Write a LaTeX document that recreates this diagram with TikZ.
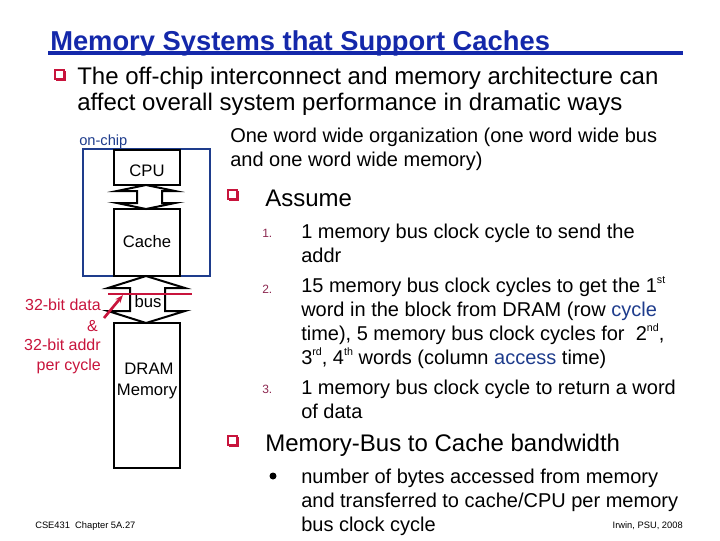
\documentclass[tikz,border=0pt]{standalone}
\usepackage{fontspec}
\setmainfont{Liberation Sans}
\usetikzlibrary{arrows.meta}
\definecolor{tblue}{RGB}{20,40,170}
\definecolor{dblue}{RGB}{30,60,140}
\definecolor{dred}{RGB}{200,20,60}
\definecolor{nred}{RGB}{140,40,80}
\begin{document}
\begin{tikzpicture}[x=0.75pt,y=-0.75pt,
  txt/.style={anchor=base west,inner sep=0pt,font=\fontsize{15}{17}\selectfont},
  big/.style={anchor=base west,inner sep=0pt,font=\fontsize{18}{21}\selectfont},
  num/.style={anchor=base west,inner sep=0pt,text=nred,font=\fontsize{9}{11}\selectfont},
  box/.style={draw=black,line width=1.5pt,fill=white},
  lbl/.style={inner sep=0pt,font=\fontsize{12.5}{14}\selectfont},
  rlbl/.style={anchor=base east,inner sep=0pt,text=dred,font=\fontsize{12}{14}\selectfont},
  darr/.style={draw=black,line width=1.5pt,fill=white,line join=miter}]
\useasboundingbox (0,0) rectangle (720,540);
% title
\node[anchor=base west,inner sep=0pt,text=tblue,font=\fontsize{20.5}{24}\bfseries\selectfont] (title) at (50,50) {Memory Systems that Support Caches};
\fill[tblue] (48,51) rectangle (683,55);
% bullets
\foreach \bx/\by in {55/70,228/190,228/436}{
  \fill[dred] (\bx+1,\by+1) rectangle (\bx+11,\by+11);
  \filldraw[draw=dred,fill=white,line width=0.8pt] (\bx,\by) rectangle (\bx+9,\by+9);
}
\node[big] (t1) at (77,84) {The off-chip interconnect and memory architecture can};
\node[big] (t2) at (77,110) {affect overall system performance in dramatic ways};
% diagram
\draw[dblue,line width=1.5pt] (83,149) rectangle (210,276);
\node[anchor=base west,inner sep=0pt,text=dblue,font=\fontsize{11}{13}\selectfont] (onchip) at (79,145) {on-chip};
\draw[box] (114,150) rectangle (180,185);
\node[lbl] (cpuT) at (147,171) {CPU};
\draw[box] (114,209) rectangle (180,276);
\node[lbl] (cacheT) at (147,242) {Cache};
\draw[box] (114,323) rectangle (180,468);
\node[lbl] (dramT) at (149,369) {DRAM};
\node[lbl] (memT) at (147,391) {Memory};
\draw[darr] (146,185) -- (117,191) -- (137,191) -- (137,203) -- (117,203) -- (146,209) -- (175,203) -- (162,203) -- (162,191) -- (175,191) -- cycle;
\draw[darr] (146,276) -- (108,288) -- (130,288) -- (130,311) -- (108,311) -- (146,323) -- (185,311) -- (165,311) -- (165,288) -- (185,288) -- cycle;
\node[lbl] (busT) at (148,302) {bus};
\draw[dred,line width=2pt] (108,294) -- (192,294);
\coordinate (rs) at (104,318);
\coordinate (re) at (123,295);
\draw[dred,line width=2pt,-{Stealth[length=6pt]}] (rs) -- (re);
\node[rlbl] (r1) at (101,310) {32-bit data};
\node[rlbl] (r2) at (98,331) {\&};
\node[rlbl] (r3) at (101,350) {32-bit addr};
\node[rlbl] (r4) at (101,370) {per cycle};
% right column
\node[txt] (o1) at (230,142) {One word wide organization (one word wide bus};
\node[txt] (o2) at (230,166) {and one word wide memory)};
\node[big] (as) at (265,206) {Assume};
\node[num] (n1) at (262,237) {1.};
\node[num] (n2) at (262,293) {2.};
\node[num] (n3) at (262,393) {3.};
\node[txt] (l1) at (301,238) {1 memory bus clock cycle to send the};
\node[txt] (l2) at (301,262) {addr};
\node[txt] (l3) at (301,292) {15 memory bus clock cycles to get the 1\raisebox{0.8ex}{\fontsize{8}{9}\selectfont st}};
\node[txt] (l4) at (301,316) {word in the block from DRAM (row \textcolor{dblue}{cycle}};
\node[txt] (l5) at (301,340) {time), 5 memory bus clock cycles for \ 2\raisebox{0.8ex}{\fontsize{8}{9}\selectfont nd},};
\node[txt] (l6) at (301,364) {3\raisebox{0.8ex}{\fontsize{8}{9}\selectfont rd}, 4\raisebox{0.8ex}{\fontsize{8}{9}\selectfont th} words (column \textcolor{dblue}{access} time)};
\node[txt] (l7) at (301,394) {1 memory bus clock cycle to return a word};
\node[txt] (l8) at (301,418) {of data};
\node[big] (mb) at (265,451) {Memory-Bus to Cache bandwidth};
\fill[black] (273,476) circle (3.5);
\node[txt] (s1) at (301,483) {number of bytes accessed from memory};
\node[txt] (s2) at (301,507) {and transferred to cache/CPU per memory};
\node[txt] (s3) at (301,531) {bus clock cycle};
\node[anchor=base west,inner sep=0pt,font=\fontsize{7}{8}\selectfont] (foot) at (35,528) {CSE431 \ Chapter 5A.27};
\node[anchor=base east,inner sep=0pt,font=\fontsize{7}{8}\selectfont] (irwin) at (683,528) {Irwin, PSU, 2008};
\end{tikzpicture}
\end{document}
